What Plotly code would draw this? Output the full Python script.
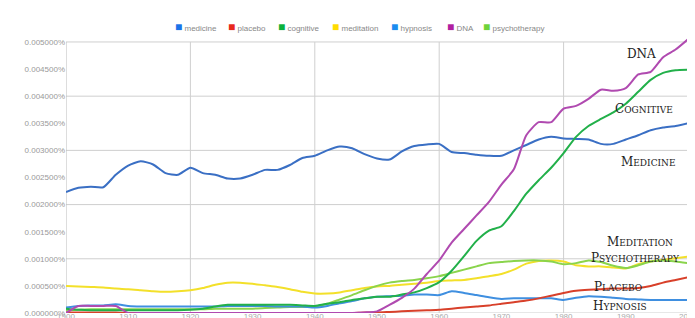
import plotly.graph_objects as go

years = list(range(1900, 2001, 2))

medicine = [2.23, 2.31, 2.33, 2.32, 2.55, 2.72, 2.80, 2.74, 2.58, 2.55,
            2.68, 2.58, 2.55, 2.48, 2.48, 2.55, 2.64, 2.64, 2.73, 2.86,
            2.90, 3.00, 3.07, 3.04, 2.93, 2.85, 2.83, 2.98, 3.08, 3.11,
            3.12, 2.97, 2.95, 2.92, 2.90, 2.90, 3.00, 3.10, 3.20, 3.25,
            3.22, 3.21, 3.20, 3.12, 3.12, 3.20, 3.28, 3.37, 3.42, 3.45, 3.50]
placebo = [0.01, 0.01, 0.01, 0.01, 0.01, 0.00, 0.00, 0.00, 0.00, 0.00,
           0.00, 0.00, 0.00, 0.00, 0.00, 0.00, 0.00, 0.00, 0.00, 0.00,
           0.00, 0.00, 0.00, 0.00, 0.01, 0.01, 0.02, 0.03, 0.04, 0.05,
           0.06, 0.08, 0.10, 0.12, 0.14, 0.17, 0.20, 0.23, 0.27, 0.32,
           0.37, 0.41, 0.43, 0.44, 0.45, 0.45, 0.46, 0.50, 0.56, 0.61, 0.66]
cognitive = [0.08, 0.06, 0.05, 0.05, 0.05, 0.05, 0.05, 0.05, 0.05, 0.05,
             0.06, 0.08, 0.12, 0.15, 0.15, 0.15, 0.15, 0.15, 0.15, 0.14,
             0.13, 0.17, 0.20, 0.24, 0.27, 0.30, 0.30, 0.34, 0.38, 0.46,
             0.57, 0.78, 1.05, 1.33, 1.52, 1.60, 1.88, 2.20, 2.45, 2.68,
             2.95, 3.25, 3.45, 3.58, 3.70, 3.86, 4.08, 4.30, 4.43, 4.48, 4.49]
meditation = [0.50, 0.49, 0.48, 0.47, 0.45, 0.44, 0.42, 0.40, 0.39, 0.40,
              0.42, 0.46, 0.52, 0.56, 0.56, 0.54, 0.51, 0.48, 0.44, 0.39,
              0.36, 0.36, 0.38, 0.42, 0.46, 0.49, 0.50, 0.52, 0.54, 0.56,
              0.59, 0.60, 0.61, 0.64, 0.68, 0.72, 0.80, 0.91, 0.96, 0.97,
              0.95, 0.88, 0.86, 0.86, 0.84, 0.82, 0.90, 0.95, 0.98, 1.01, 1.04]
hypnosis = [0.10, 0.13, 0.14, 0.14, 0.16, 0.13, 0.12, 0.12, 0.12, 0.12,
            0.12, 0.12, 0.12, 0.13, 0.13, 0.13, 0.13, 0.12, 0.12, 0.12,
            0.10, 0.13, 0.18, 0.22, 0.27, 0.30, 0.31, 0.32, 0.34, 0.34,
            0.33, 0.40, 0.37, 0.33, 0.29, 0.26, 0.27, 0.27, 0.27, 0.27,
            0.24, 0.28, 0.31, 0.30, 0.28, 0.26, 0.25, 0.24, 0.24, 0.24, 0.24]
dna = [0.00, 0.13, 0.13, 0.13, 0.13, 0.00, 0.00, 0.00, 0.00, 0.00,
       0.00, 0.00, 0.00, 0.00, 0.00, 0.00, 0.00, 0.00, 0.00, 0.00,
       0.00, 0.00, 0.00, 0.00, 0.01, 0.03, 0.15, 0.28, 0.45, 0.72,
       0.97, 1.30, 1.55, 1.80, 2.05, 2.37, 2.65, 3.28, 3.52, 3.52,
       3.77, 3.82, 3.95, 4.12, 4.10, 4.15, 4.40, 4.45, 4.72, 4.86, 5.05]
psychotherapy = [0.05, 0.06, 0.07, 0.07, 0.07, 0.07, 0.07, 0.07, 0.07, 0.07,
                 0.07, 0.07, 0.08, 0.08, 0.08, 0.08, 0.09, 0.10, 0.11, 0.11,
                 0.12, 0.17, 0.25, 0.33, 0.42, 0.50, 0.56, 0.59, 0.61, 0.64,
                 0.68, 0.74, 0.80, 0.86, 0.92, 0.94, 0.96, 0.97, 0.97, 0.95,
                 0.90, 0.92, 0.97, 0.94, 0.87, 0.83, 0.88, 0.95, 0.97, 0.95, 0.92]

names = ["medicine", "placebo", "cognitive", "meditation", "hypnosis", "DNA", "psychotherapy"]
series = [medicine, placebo, cognitive, meditation, hypnosis, dna, psychotherapy]
line_colors = ["#3a6fc4", "#d8402a", "#22b04a", "#f3e02a", "#3f8fe0", "#b04ab0", "#8ad44c"]
legend_colors = ["#1a73e8", "#e8291c", "#0bb13b", "#ffdc00", "#1a8cf0", "#b01fa0", "#6ed33a"]

x_ticks = list(range(1900, 2001, 10))
y_ticks = [i * 0.0005 for i in range(11)]
y_grid = [i * 0.001 for i in range(6)]
x_grid = [1900, 1920, 1940, 1960, 1980, 2000]

W, H = 695, 318
L, R, T, B = 58, 15, 28, 13
PW, PH = W - L - R, H - T - B


def px(x):
    return (x - L) / PW


def py(y):
    return (H - B - y) / PH


fig = go.Figure()
order = [3, 6, 4, 1, 0, 2, 5]
for i in order:
    fig.add_trace(go.Scatter(
        x=years, y=[v / 1000 for v in series[i]], mode="lines", name=names[i],
        line=dict(color=line_colors[i], width=2, shape="spline", smoothing=0.6),
        showlegend=False, hoverinfo="skip"))

shapes = []
for g in y_grid:
    shapes.append(dict(type="line", xref="x", yref="y", x0=1900, x1=2000, y0=g, y1=g,
                       line=dict(color="#cfcfcf", width=1), layer="below"))
for g in x_grid:
    shapes.append(dict(type="line", xref="x", yref="y", x0=g, x1=g, y0=0, y1=0.005,
                       line=dict(color="#cfcfcf" if g != 1900 else "#bbbbbb", width=1), layer="below"))

annotations = []
legend_x = [165, 218, 268, 322, 381, 437, 473]
for name, c, lx in zip(names, legend_colors, legend_x):
    annotations.append(dict(
        xref="paper", yref="paper", x=px(lx), y=py(19), xanchor="left", yanchor="middle",
        showarrow=False,
        text=f"<span style='color:{c};font-size:12px'>■</span> {name}",
        font=dict(family="Liberation Sans, Arial", size=8, color="#888888")))

labels = [
    ("DNA", "DNA", 633, 46),
    ("COGNITIVE", "C<span style='font-size:9px'>OGNITIVE</span>", 636, 101),
    ("MEDICINE", "M<span style='font-size:9px'>EDICINE</span>", 640, 154),
    ("MEDITATION", "M<span style='font-size:9px'>EDITATION</span>", 632, 234),
    ("PSYCHOTHERAPY", "P<span style='font-size:9px'>SYCHOTHERAPY</span>", 627, 250),
    ("PLACEBO", "P<span style='font-size:9px'>LACEBO</span>", 610, 279),
    ("HYPNOSIS", "H<span style='font-size:9px'>YPNOSIS</span>", 612, 298),
]
for _, t, lx, ly in labels:
    annotations.append(dict(
        xref="paper", yref="paper", x=px(lx), y=py(ly), xanchor="center", yanchor="middle",
        showarrow=False, text=t,
        font=dict(family="DejaVu Serif", size=12, color="#222222")))

fig.update_layout(
    width=W, height=H,
    margin=dict(l=L, r=R, t=T, b=B),
    paper_bgcolor="white", plot_bgcolor="white",
    showlegend=False,
    xaxis=dict(range=[1900, 2000], tickvals=x_ticks, ticktext=[str(v) for v in x_ticks],
               showgrid=False, zeroline=False, showline=False, ticks="",
               ticklabelstandoff=-3,
               tickfont=dict(family="Liberation Sans, Arial", size=8, color="#aaaaaa"),
               automargin=False, fixedrange=True),
    yaxis=dict(range=[0, 0.00511], tickvals=y_ticks,
               ticktext=[f"{v:.6f}%" for v in y_ticks],
               showgrid=False, zeroline=False, showline=False, ticks="",
               tickfont=dict(family="Liberation Sans, Arial", size=8, color="#999999"),
               automargin=False, fixedrange=True),
    shapes=shapes,
    annotations=annotations,
)

fig.write_html("out.html")
